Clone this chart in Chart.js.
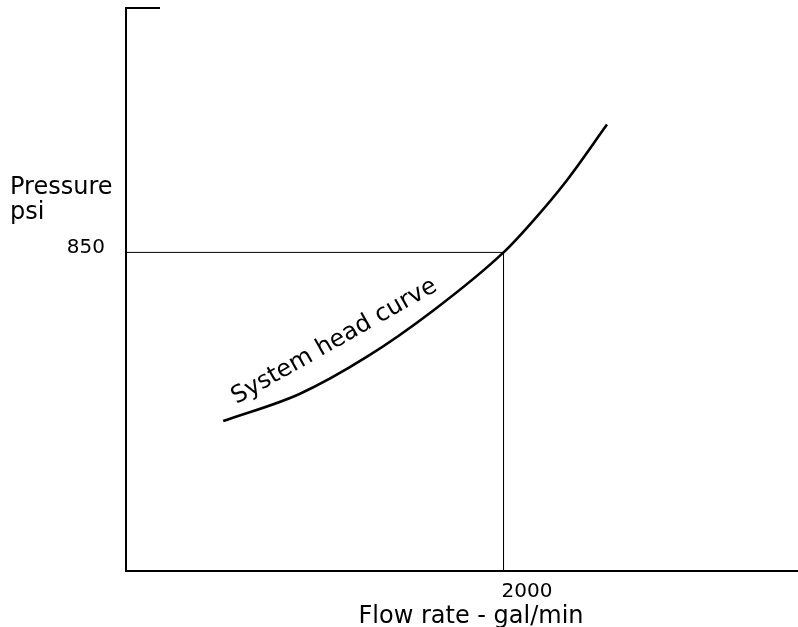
<!DOCTYPE html>
<html>
<head>
<meta charset="utf-8">
<script src="https://cdn.jsdelivr.net/npm/chart.js@4"></script>
<style>
  html, body { margin: 0; padding: 0; background: #fff; }
  #wrap { width: 798px; height: 627px; position: relative; }
</style>
</head>
<body>
<div id="wrap"><canvas id="headChart"></canvas></div>
<script>
// system head curve
const flowRate = [515, 922, 1275, 1628, 2000, 2158, 2335, 2548];
const headPsi = [400, 473, 571, 695, 850, 935, 1042, 1191];

// operating point guide lines
const guideFlow = [0, 2000, 2000];
const guidePsi = [850, 850, 0];

const xTickValue = 2000;
const yTickValue = 850;
const xTitle = 'Flow rate - gal/min';
const yTitle = ['Pressure', 'psi'];
const curveLabel = 'System head curve';
const curveLabelAt = { x: 585, y: 445 };

const FONT = "'DejaVu Sans', Verdana, sans-serif";

const textPlugin = {
    id: 'textPlugin',
    afterDraw(chart) {
        const c = chart.ctx;
        const xs = chart.scales.x, ys = chart.scales.y;
        const area = chart.chartArea;
        c.save();
        c.fillStyle = '#000';

        // little stub at the top of the y axis
        c.strokeStyle = '#000';
        c.lineWidth = 2;
        c.beginPath();
        c.moveTo(area.left - 1, area.top);
        c.lineTo(area.left + 34, area.top);
        c.stroke();

        // tick labels
        c.font = '20px ' + FONT;
        c.textBaseline = 'alphabetic';
        c.textAlign = 'right';
        c.fillText(String(yTickValue), area.left - 21, ys.getPixelForValue(yTickValue) + 1);
        c.textAlign = 'left';
        c.fillText(String(xTickValue), xs.getPixelForValue(xTickValue) - 2, area.bottom + 26);

        // axis titles
        c.font = '24px ' + FONT;
        c.textAlign = 'left';
        c.fillText(yTitle[0], 10, 194);
        c.fillText(yTitle[1], 10, 219);
        c.textAlign = 'center';
        c.fillText(xTitle, 471, 623);

        // label along the curve
        c.translate(xs.getPixelForValue(curveLabelAt.x), ys.getPixelForValue(curveLabelAt.y));
        c.rotate(-29.5 * Math.PI / 180);
        c.textAlign = 'left';
        c.fillText(curveLabel, 0, 0);
        c.restore();
    }
};

const ctx = document.getElementById('headChart').getContext('2d');

new Chart(ctx, {
    type: 'line',
    data: {
        datasets: [{
            label: 'System head',
            data: flowRate.map((f, i) => ({ x: f, y: headPsi[i] })),
            borderColor: '#000',
            borderWidth: 2.6,
            pointRadius: 0,
            cubicInterpolationMode: 'monotone',
            fill: false
        }, {
            label: 'Guide',
            data: guideFlow.map((f, i) => ({ x: f, y: guidePsi[i] })),
            borderColor: '#000',
            borderWidth: 1,
            pointRadius: 0,
            tension: 0,
            fill: false
        }]
    },
    options: {
        responsive: true,
        maintainAspectRatio: false,
        animation: false,
        layout: { padding: { left: 118, top: 8, right: 0, bottom: 48 } },
        scales: {
            x: {
                type: 'linear', min: 0, max: 3560,
                grid: { display: false },
                ticks: { display: false },
                border: { display: true, color: '#000', width: 2 }
            },
            y: {
                type: 'linear', min: 0, max: 1502,
                grid: { display: false },
                ticks: { display: false },
                border: { display: true, color: '#000', width: 2 }
            }
        },
        plugins: {
            legend: { display: false },
            tooltip: { enabled: false }
        }
    },
    plugins: [textPlugin]
});
</script>
</body>
</html>
